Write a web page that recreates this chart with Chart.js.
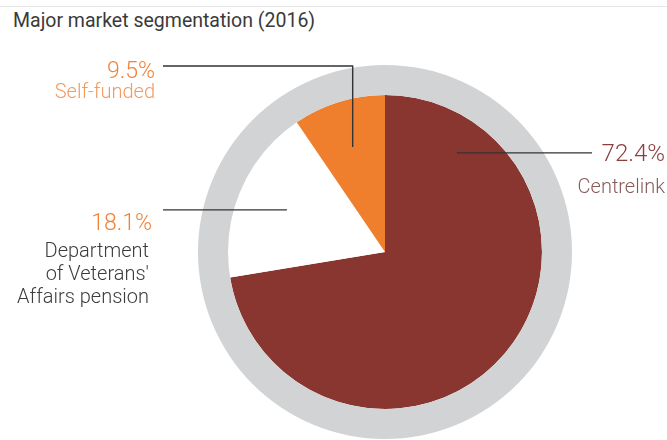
<!DOCTYPE html>
<html>
<head>
<meta charset="utf-8">
<script src="https://cdn.jsdelivr.net/npm/chart.js@4.4.1/dist/chart.umd.min.js"></script>
<style>
  html, body { margin: 0; padding: 0; background: #ffffff; }
  #wrap { position: relative; width: 667px; height: 440px; overflow: hidden; }
  #topline { position: absolute; left: 0; top: 6px; width: 667px; height: 1px; background: #e6e6e6; }
  #title { position: absolute; left: 13px; top: 9px; font-family: Roboto, sans-serif; font-size: 19.5px; color: #3a3a3a; white-space: nowrap; }
  canvas { position: absolute; left: 0; top: 0; }
</style>
</head>
<body>
<div id="wrap">
  <div id="topline"></div>
  <div id="title">Major market segmentation (2016)</div>
  <canvas id="c" width="667" height="440"></canvas>
</div>
<script>
// ---- data ----
const categories = ['Centrelink', "Department of Veterans' Affairs pension", 'Self-funded'];
const shares = [72.4, 18.1, 9.5];
const valueLabels = ['72.4%', '18.1%', '9.5%'];
const nameLines = [['Centrelink'], ['Department', "of Veterans'", 'Affairs pension'], ['Self-funded']];
const ringValues = [100];

// ---- styles / layout ----
const sliceColors = ['#8a3630', '#ffffff', '#f07f2d'];
const ringColor = '#d1d3d5';
const FONT = 'Roboto, sans-serif';

// label layout: anchor on the slice (fraction of angle span, fraction of radius), elbow/text placement
const labelLayout = [
  { angFrac: 0.138, radFrac: 0.78, lineEndX: 592, align: 'right', textX: 665, valY: 161, nameY: 193,
    valColor: '#8c3d3d', nameColor: '#8a5b5b', valSize: 24 },
  { angFrac: 0.5, radFrac: 0.68, lineEndX: 163, align: 'right', textX: 152, valY: 230, nameY: 257,
    valColor: '#f0833a', nameColor: '#3c3c3c', valSize: 23, nameRight: 149 },
  { angFrac: 0.5, radFrac: 0.70, lineEndX: 163, elbowY: 66, align: 'right', textX: 155, valY: 78, nameY: 98,
    valColor: '#f0833a', nameColor: '#f29a60', valSize: 23 }
];

const labelPlugin = {
  id: 'leaderLabels',
  afterDatasetsDraw(chart) {
    const ctx = chart.ctx;
    const meta = chart.getDatasetMeta(1);
    ctx.save();
    meta.data.forEach((arc, i) => {
      const p = arc.getProps(['x', 'y', 'startAngle', 'endAngle', 'outerRadius'], true);
      const L = labelLayout[i];
      const a = p.startAngle + (p.endAngle - p.startAngle) * L.angFrac;
      const ax = p.x + Math.cos(a) * p.outerRadius * L.radFrac;
      const ay = p.y + Math.sin(a) * p.outerRadius * L.radFrac;
      ctx.strokeStyle = '#333333';
      ctx.lineWidth = 1.4;
      ctx.beginPath();
      if (L.elbowY !== undefined) {
        ctx.moveTo(ax, ay);
        ctx.lineTo(ax, L.elbowY);
        ctx.lineTo(L.lineEndX, L.elbowY);
      } else {
        ctx.moveTo(ax, ay);
        ctx.lineTo(L.lineEndX, ay);
      }
      ctx.stroke();

      ctx.textBaseline = 'alphabetic';
      ctx.textAlign = L.align;
      ctx.fillStyle = L.valColor;
      ctx.font = '300 ' + L.valSize + 'px ' + FONT;
      ctx.fillText(valueLabels[i], L.textX, L.valY);
      ctx.fillStyle = L.nameColor;
      ctx.font = '300 20px ' + FONT;
      const nx = L.nameRight !== undefined ? L.nameRight : L.textX;
      nameLines[i].forEach((t, k) => ctx.fillText(t, nx, L.nameY + k * 23));
    });
    ctx.restore();
  }
};

new Chart(document.getElementById('c'), {
  type: 'pie',
  data: {
    labels: categories,
    datasets: [
      { data: ringValues, backgroundColor: [ringColor], borderWidth: 0, weight: 30, hoverOffset: 0 },
      { data: shares, backgroundColor: sliceColors, borderWidth: 0, weight: 157, hoverOffset: 0 }
    ]
  },
  options: {
    responsive: false,
    animation: false,
    events: [],
    layout: { padding: { left: 198, right: 95, top: 65, bottom: 1 } },
    plugins: { legend: { display: false }, tooltip: { enabled: false } }
  },
  plugins: [labelPlugin]
});
</script>
</body>
</html>
